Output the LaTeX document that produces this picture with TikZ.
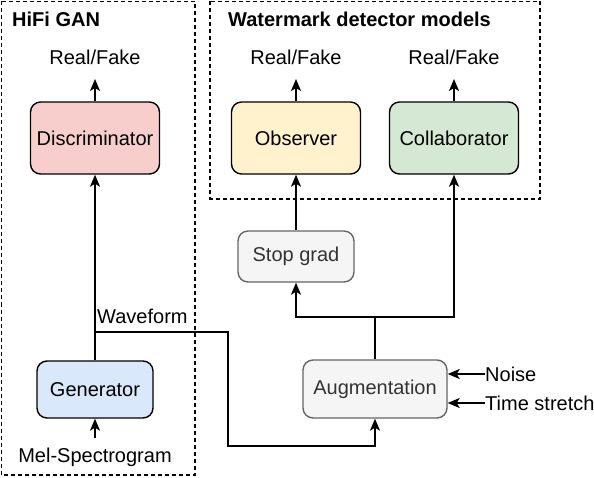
\documentclass[tikz,border=0pt]{standalone}
\usepackage{fontspec}
\setmainfont{Liberation Sans}
\usetikzlibrary{arrows.meta}
\definecolor{redfill}{HTML}{F8CECC}
\definecolor{yelfill}{HTML}{FFF2CC}
\definecolor{grnfill}{HTML}{D5E8D4}
\definecolor{blufill}{HTML}{DAE8FC}
\definecolor{gryfill}{HTML}{F5F5F5}
\definecolor{grystroke}{HTML}{666666}
\definecolor{grytext}{HTML}{333333}
\begin{document}
\begin{tikzpicture}[x=1pt,y=-1pt,
  font=\fontsize{20}{23}\selectfont,
  box/.style={draw, line width=1.4pt, rounded corners=10pt, inner sep=0pt, align=center},
  bigbox/.style={box, minimum width=129pt, minimum height=72pt},
  graybox/.style={box, draw=grystroke, fill=gryfill, text=grytext},
  group/.style={draw, line width=1.4pt, dash pattern=on 4pt off 3pt},
  arr/.style={line width=1.6pt, -{Stealth[length=12pt,width=10pt,inset=3pt]}},
  ln/.style={line width=1.6pt},
  lbl/.style={inner sep=0pt, anchor=base},
  ttl/.style={inner sep=0pt, anchor=base west, font=\fontsize{20}{23}\selectfont\bfseries}]
\useasboundingbox (0,0) rectangle (594,478);
% groups
\draw[group] (1.5,1.5) rectangle (195,475);
\draw[group] (210,1.5) rectangle (540,199);
\node[ttl] (t1) at (12,27) {HiFi GAN};
\node[ttl] (t2) at (228,27) {Watermark detector models};
% boxes
\node[bigbox, fill=redfill] (dis) at (95,138) {Discriminator};
\node[bigbox, fill=yelfill] (obs) at (296,138) {Observer};
\node[bigbox, fill=grnfill] (col) at (454,138) {Collaborator};
\node[box, fill=blufill, minimum width=116pt, minimum height=57pt] (gen) at (95,389.5) {Generator};
\node[graybox, minimum width=116pt, minimum height=51pt] (sg) at (296,256.5) {Stop grad};
\node[graybox, minimum width=144pt, minimum height=58pt] (aug) at (375,389) {Augmentation};
% labels
\node[lbl] (rf1) at (95,65) {Real/Fake};
\node[lbl] (rf2) at (296,65) {Real/Fake};
\node[lbl] (rf3) at (454,65) {Real/Fake};
\node[lbl] (mel) at (95,462) {Mel-Spectrogram};
\node[lbl, anchor=base west] (wf) at (97,323) {Waveform};
\node[lbl, anchor=base west] (noise) at (485,381) {Noise};
\node[lbl, anchor=base west] (ts) at (485,410) {Time stretch};
% coordinates
\coordinate (rf1b) at (95,79);
\coordinate (rf2b) at (296,79);
\coordinate (rf3b) at (454,79);
\coordinate (melt) at (95,438);
\coordinate (br) at (95,332);
\coordinate (w1) at (228,332);
\coordinate (w2) at (228,446);
\coordinate (split) at (375,317);
\coordinate (nz) at (485,374);
\coordinate (tz) at (485,403);
% connectors
\draw[arr] (dis.north) -- (rf1b);
\draw[arr] (obs.north) -- (rf2b);
\draw[arr] (col.north) -- (rf3b);
\draw[arr] (melt) -- (gen.south);
\draw[arr] (gen.north) -- (dis.south);
\draw[arr] (br) -- (w1) -- (w2) -| (aug.south);
\draw[ln] (aug.north) -- (split);
\draw[arr] (split) -| (sg.south);
\draw[arr] (split) -| (col.south);
\draw[arr] (sg.north) -- (obs.south);
\draw[arr] (nz) -- (nz -| aug.east);
\draw[arr] (tz) -- (tz -| aug.east);
\end{tikzpicture}
\end{document}
